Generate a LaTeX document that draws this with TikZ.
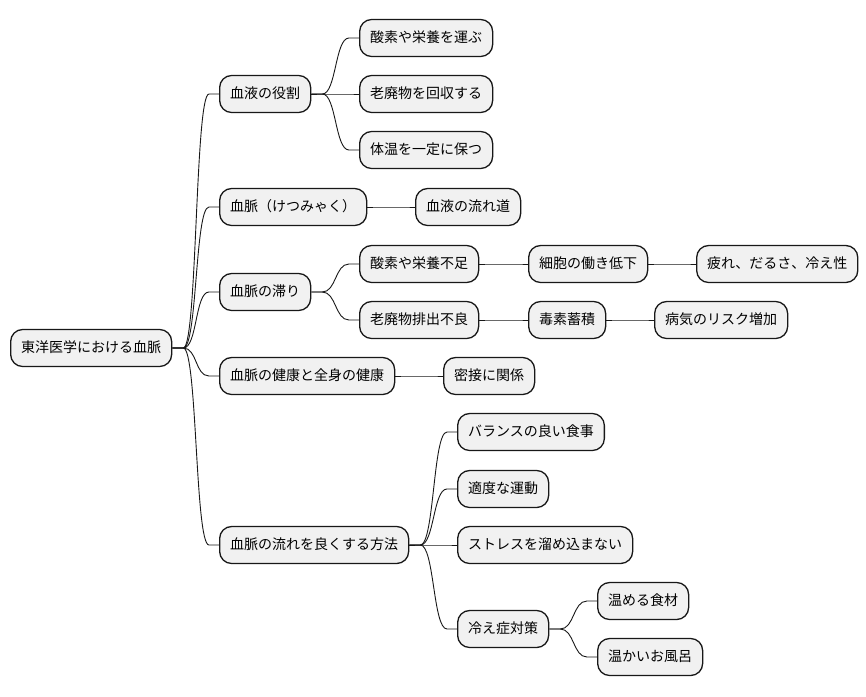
\documentclass[tikz,border=0pt]{standalone}
\usepackage{fontspec}
\newfontfamily\jpfont{Noto Sans CJK JP}
\definecolor{boxfill}{HTML}{F1F1F1}
\definecolor{boxline}{HTML}{181818}
\tikzset{
  topic/.style={draw=boxline, line width=1.3pt, fill=boxfill, rounded corners=12pt,
    anchor=west, minimum height=37pt, inner xsep=10.5pt, inner ysep=0pt,
    text height=11pt, text depth=2.5pt, font=\jpfont\fontsize{14}{16}\selectfont},
  branch/.style={line width=0.9pt, draw=boxline}
}
% 親から子への枝
\newcommand{\mmlink}[2]{\draw[branch] (#1.east) -- ++(11,0) .. controls +(14,0) and +(-14,0) .. ([xshift=-10pt]#2.west) -- (#2.west);}

\begin{document}
\begin{tikzpicture}[x=1pt, y=-1pt]
\useasboundingbox (0,0) rectangle (866,696);

% 中心
\node[topic] (root) at (10,348) {東洋医学における血脈};

% 血液の役割
\node[topic] (role) at (219,94) {血液の役割};
\node[topic] (role1) at (359,38) {酸素や栄養を運ぶ};
\node[topic] (role2) at (359,94) {老廃物を回収する};
\node[topic] (role3) at (359,150) {体温を一定に保つ};

% 血脈
\node[topic] (ketsu) at (219,207) {血脈（けつみゃく）};
\node[topic] (ketsu1) at (415,207) {血液の流れ道};

% 血脈の滞り
\node[topic] (stag) at (219,292) {血脈の滞り};
\node[topic] (stagA) at (359,264) {酸素や栄養不足};
\node[topic] (stagA1) at (528,264) {細胞の働き低下};
\node[topic] (stagA2) at (696,264) {疲れ、だるさ、冷え性};
\node[topic] (stagB) at (359,320) {老廃物排出不良};
\node[topic] (stagB1) at (528,320) {毒素蓄積};
\node[topic] (stagB2) at (654,320) {病気のリスク増加};

% 健康
\node[topic] (health) at (219,376) {血脈の健康と全身の健康};
\node[topic] (health1) at (443,376) {密接に関係};

% 方法
\node[topic] (way) at (219,545) {血脈の流れを良くする方法};
\node[topic] (way1) at (457,432) {バランスの良い食事};
\node[topic] (way2) at (457,489) {適度な運動};
\node[topic] (way3) at (457,545) {ストレスを溜め込まない};
\node[topic] (way4) at (457,629) {冷え症対策};
\node[topic] (cold1) at (597,601) {温める食材};
\node[topic] (cold2) at (597,657) {温かいお風呂};

% 枝
\foreach \c in {role,ketsu,stag,health,way} {\mmlink{root}{\c}}
\foreach \c in {role1,role2,role3} {\mmlink{role}{\c}}
\mmlink{ketsu}{ketsu1}
\mmlink{stag}{stagA}
\mmlink{stag}{stagB}
\mmlink{stagA}{stagA1}
\mmlink{stagA1}{stagA2}
\mmlink{stagB}{stagB1}
\mmlink{stagB1}{stagB2}
\mmlink{health}{health1}
\foreach \c in {way1,way2,way3,way4} {\mmlink{way}{\c}}
\mmlink{way4}{cold1}
\mmlink{way4}{cold2}
\end{tikzpicture}
\end{document}
